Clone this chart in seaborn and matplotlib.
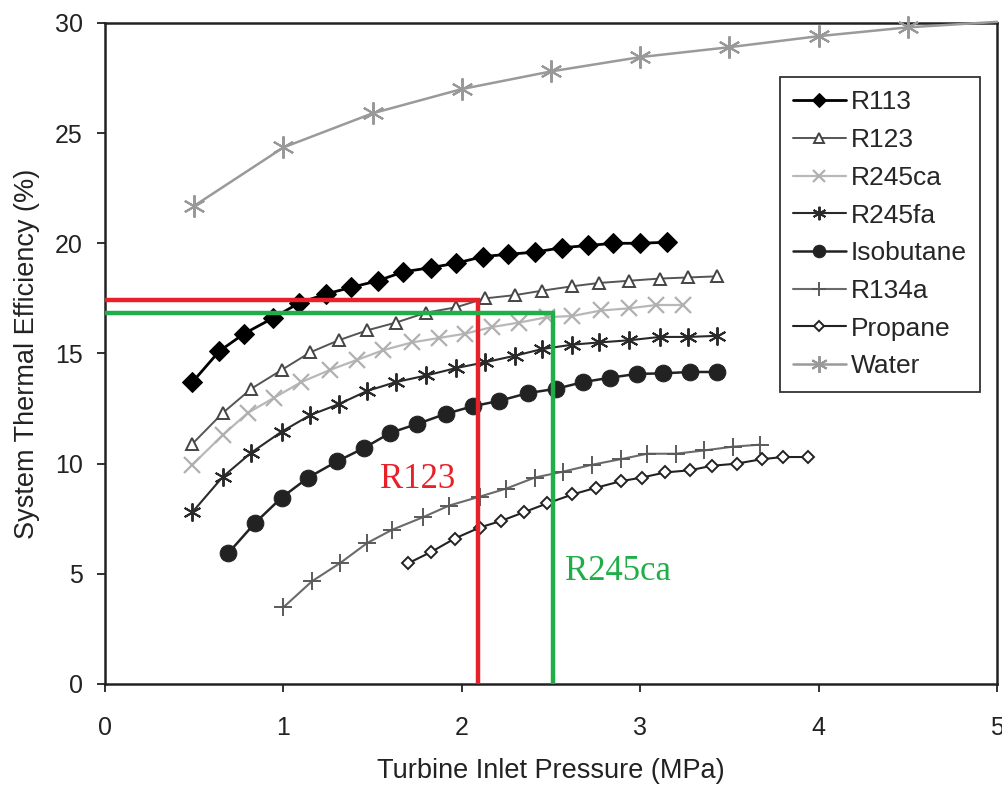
import pandas as pd
import matplotlib.pyplot as plt
import seaborn as sns

# ==============================================================================
# DADOS
# ==============================================================================
r113_x = [0.49, 0.64, 0.78, 0.94, 1.09, 1.24, 1.38, 1.53, 1.67, 1.83,
          1.97, 2.12, 2.26, 2.41, 2.56, 2.71, 2.85, 3.00, 3.15]
r113_y = [13.7, 15.1, 15.9, 16.6, 17.3, 17.7, 18.0, 18.3, 18.7, 18.9,
          19.1, 19.4, 19.5, 19.6, 19.8, 19.9, 20.0, 20.0, 20.05]

r123_x = [0.49, 0.66, 0.82, 0.99, 1.15, 1.31, 1.47, 1.63, 1.80, 1.97,
          2.13, 2.30, 2.45, 2.62, 2.77, 2.94, 3.11, 3.27, 3.43]
r123_y = [10.9, 12.3, 13.4, 14.25, 15.05, 15.6, 16.05, 16.4, 16.85, 17.1,
          17.5, 17.65, 17.85, 18.05, 18.2, 18.3, 18.4, 18.45, 18.5]

r245ca_x = [0.49, 0.66, 0.80, 0.95, 1.10, 1.26, 1.41, 1.56, 1.72, 1.87,
            2.02, 2.17, 2.32, 2.48, 2.62, 2.78, 2.94, 3.09, 3.24]
r245ca_y = [9.95, 11.3, 12.3, 13.0, 13.7, 14.25, 14.7, 15.15, 15.5, 15.7,
            15.9, 16.2, 16.4, 16.65, 16.7, 16.95, 17.05, 17.2, 17.2]

r245fa_x = [0.49, 0.66, 0.82, 0.99, 1.15, 1.31, 1.47, 1.63, 1.80, 1.97,
            2.13, 2.30, 2.45, 2.62, 2.77, 2.94, 3.11, 3.27, 3.43]
r245fa_y = [7.8, 9.4, 10.5, 11.45, 12.2, 12.7, 13.3, 13.7, 14.0, 14.34,
            14.6, 14.9, 15.2, 15.4, 15.5, 15.6, 15.75, 15.75, 15.8]

isobutane_x = [0.69, 0.84, 0.99, 1.14, 1.30, 1.45, 1.60, 1.75, 1.91, 2.06,
               2.21, 2.37, 2.53, 2.68, 2.83, 2.98, 3.13, 3.28, 3.43]
isobutane_y = [5.93, 7.3, 8.46, 9.37, 10.1, 10.7, 11.4, 11.8, 12.26, 12.6,
               12.85, 13.2, 13.4, 13.7, 13.9, 14.07, 14.1, 14.16, 14.16]

r134a_x = [1.00, 1.16, 1.32, 1.47, 1.61, 1.78, 1.93, 2.10, 2.25, 2.41,
           2.57, 2.73, 2.89, 3.04, 3.20, 3.36, 3.52, 3.67]
r134a_y = [3.48, 4.66, 5.5, 6.4, 7.0, 7.56, 8.1, 8.5, 8.87, 9.37,
           9.64, 9.95, 10.2, 10.45, 10.45, 10.6, 10.77, 10.86]

propane_x = [1.70, 1.83, 1.96, 2.10, 2.22, 2.35, 2.48, 2.62, 2.75, 2.89,
             3.01, 3.14, 3.28, 3.40, 3.54, 3.68, 3.80, 3.94]
propane_y = [5.48, 6.0, 6.6, 7.1, 7.4, 7.8, 8.2, 8.6, 8.9, 9.2,
             9.37, 9.6, 9.7, 9.9, 10.0, 10.2, 10.3, 10.3]

water_x = [0.5, 1.0, 1.5, 2.0, 2.5, 3.0, 3.5, 4.0, 4.5, 5.0]
water_y = [21.7, 24.35, 25.9, 27.0, 27.8, 28.45, 28.9, 29.4, 29.8, 30.05]

# pontos de leitura destacados (pressão, eficiência)
r123_ponto = (2.09, 17.42)
r245ca_ponto = (2.51, 16.83)

x_ticks = [0, 1, 2, 3, 4, 5]
y_ticks = [0, 5, 10, 15, 20, 25, 30]

# ==============================================================================
# ESTILO DE CADA SÉRIE
# ==============================================================================
ASTERISCO = (6, 2, 0)
series = [
    ('R113', r113_x, r113_y, dict(color='#000000', marker='D', ms=10, mfc='#000000', mec='#000000', lw=2.0)),
    ('R123', r123_x, r123_y, dict(color='#555555', marker='^', ms=9, mfc='white', mec='#444444', mew=1.4, lw=1.4)),
    ('R245ca', r245ca_x, r245ca_y, dict(color='#b8b8b8', marker='x', ms=12, mec='#b0b0b0', mew=1.6, lw=1.6)),
    ('R245fa', r245fa_x, r245fa_y, dict(color='#2a2a2a', marker=ASTERISCO, ms=13, mec='#2a2a2a', mew=1.4, lw=1.5)),
    ('Isobutane', isobutane_x, isobutane_y, dict(color='#222222', marker='o', ms=12, mfc='#222222', mec='#222222', lw=1.8)),
    ('R134a', r134a_x, r134a_y, dict(color='#6a6a6a', marker='+', ms=13, mec='#5a5a5a', mew=1.4, lw=1.5)),
    ('Propane', propane_x, propane_y, dict(color='#222222', marker='D', ms=6.5, mfc='white', mec='#222222', mew=1.4, lw=1.5)),
    ('Water', water_x, water_y, dict(color='#9a9a9a', marker=ASTERISCO, ms=16, mec='#999999', mew=1.5, lw=1.8,
                                     markevery=slice(0, 9))),
]


def configurar_estilo():
    sns.set_style("ticks")
    plt.rcParams['font.family'] = ['Liberation Sans', 'DejaVu Sans']
    plt.rcParams.update({
        'axes.edgecolor': '#222222',
        'axes.linewidth': 1.8,
        'xtick.major.size': 6,
        'ytick.major.size': 6,
        'xtick.major.width': 1.3,
        'ytick.major.width': 1.3,
        'xtick.color': '#222222',
        'ytick.color': '#222222',
    })


def plotar():
    configurar_estilo()
    fig = plt.figure(figsize=(10.03, 7.86), dpi=100)
    ax = fig.add_axes([0.1047, 0.1298, 0.8893, 0.8410])

    for nome, xs, ys, estilo in series:
        df = pd.DataFrame({'pressao': xs, 'eficiencia': ys})
        sns.lineplot(data=df, x='pressao', y='eficiencia', ax=ax, label=nome,
                     sort=False, estimator=None, clip_on=False, zorder=3, **estilo)

    # linhas de leitura (vermelho = R123, verde = R245ca)
    px, py = r123_ponto
    ax.plot([0, px, px], [py, py, 0], color='#e8202a', lw=3.2, zorder=5, solid_joinstyle='miter')
    gx, gy = r245ca_ponto
    ax.plot([0, gx, gx], [gy, gy, 0], color='#1fae48', lw=3.2, zorder=5, solid_joinstyle='miter')

    serif = ['Liberation Serif', 'DejaVu Serif']
    ax.text(1.75, 9.3, 'R123', color='#e8202a', fontsize=25, ha='center', va='center', family=serif)
    ax.text(2.58, 5.1, 'R245ca', color='#1fae48', fontsize=25, ha='left', va='center', family=serif)

    ax.set_xlim(0, 5)
    ax.set_ylim(0, 30)
    ax.set_xticks(x_ticks)
    ax.set_yticks(y_ticks)
    ax.tick_params(axis='x', labelsize=18, pad=17)
    ax.tick_params(axis='y', labelsize=18, pad=10)
    ax.set_xlabel('Turbine Inlet Pressure (MPa)', fontsize=19.5, labelpad=13, color='#222222')
    ax.set_ylabel('System Thermal Efficiency (%)', fontsize=19.5, labelpad=11, color='#222222')

    leg = ax.legend(loc='upper right', bbox_to_anchor=(0.981, 0.918), fontsize=19,
                    frameon=True, fancybox=False, edgecolor='#333333', framealpha=1,
                    markerscale=0.75, handlelength=2.0, handletextpad=0.2,
                    labelspacing=0.52, borderpad=0.5, borderaxespad=0)
    leg.get_frame().set_linewidth(1.3)

    fig.savefig('out.png', dpi=100)


if __name__ == "__main__":
    plotar()
